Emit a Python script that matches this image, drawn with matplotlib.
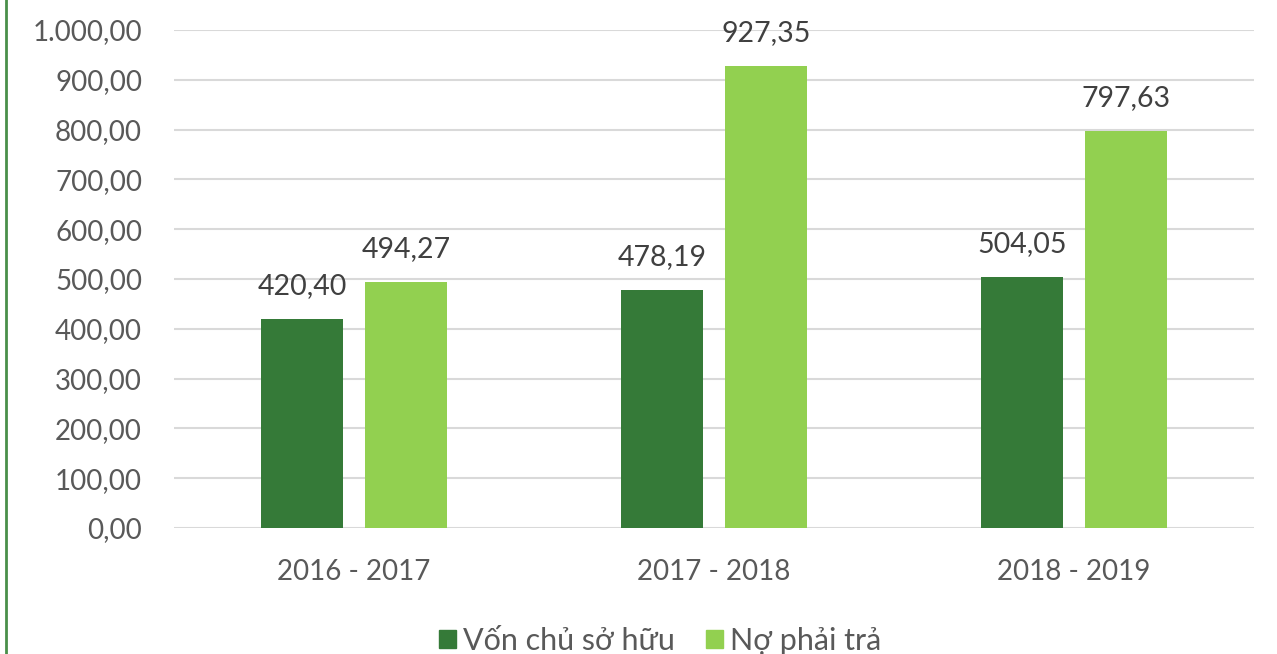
import matplotlib
matplotlib.use("Agg")
import matplotlib.pyplot as plt
import numpy as np
from matplotlib.lines import Line2D
from matplotlib.patches import Patch

categories = ["2016 - 2017", "2017 - 2018", "2018 - 2019"]
von_chu_so_huu = [420.40, 478.19, 504.05]
no_phai_tra = [494.27, 927.35, 797.63]
series_names = ["Vốn chủ sở hữu", "Nợ phải trả"]
yticks = [0, 100, 200, 300, 400, 500, 600, 700, 800, 900, 1000]

def fmt_vn(v):
    s = f"{v:,.2f}"
    return s.replace(",", "X").replace(".", ",").replace("X", ".")

plt.rcParams['font.family'] = ['Lato', 'DejaVu Sans']
W, H = 1277, 654
fig = plt.figure(figsize=(W/100, H/100), dpi=100)
ax = fig.add_axes([174/W, 1-528/H, (1254-174)/W, (528-30)/H])

x = np.arange(len(categories))
w = 0.228
off = 0.144
dark = "#357A38"
light = "#92D050"
ax.bar(x - off, von_chu_so_huu, w, color=dark, zorder=3)
ax.bar(x + off, no_phai_tra, w, color=light, zorder=3)

for xi, v in zip(x - off, von_chu_so_huu):
    ax.text(xi, v + 40, fmt_vn(v), ha='center', va='bottom', fontsize=20.5, color='#404040')
for xi, v in zip(x + off, no_phai_tra):
    ax.text(xi, v + 40, fmt_vn(v), ha='center', va='bottom', fontsize=20.5, color='#404040')

ax.set_xlim(-0.5, 2.5)
ax.set_ylim(0, 1000)
ax.set_yticks(yticks)
ax.set_yticklabels([fmt_vn(t) for t in yticks])
ax.set_xticks(x)
ax.set_xticklabels(categories)
ax.tick_params(axis='both', length=0, labelsize=20, labelcolor='#595959')
ax.tick_params(axis='y', pad=23)
ax.tick_params(axis='x', pad=22)
ax.yaxis.grid(True, color='#d9d9d9', linewidth=1.5, zorder=0)
ax.set_axisbelow(True)
for s in ax.spines.values():
    s.set_visible(False)

# left green border line
fig.add_artist(Line2D([5.5/W, 5.5/W], [0, 1], transform=fig.transFigure, color='#4a8f4a', linewidth=2))

handles = [Patch(color=dark), Patch(color=light)]
leg = fig.legend(handles, series_names, loc='center', bbox_to_anchor=(0.517, 1-641/H),
                 ncol=2, frameon=False, fontsize=22, handlelength=0.55, handleheight=0.55,
                 handletextpad=0.25, columnspacing=1.0, labelcolor='#595959',
                 borderpad=0, borderaxespad=0)

fig.savefig("out.png", dpi=100)
